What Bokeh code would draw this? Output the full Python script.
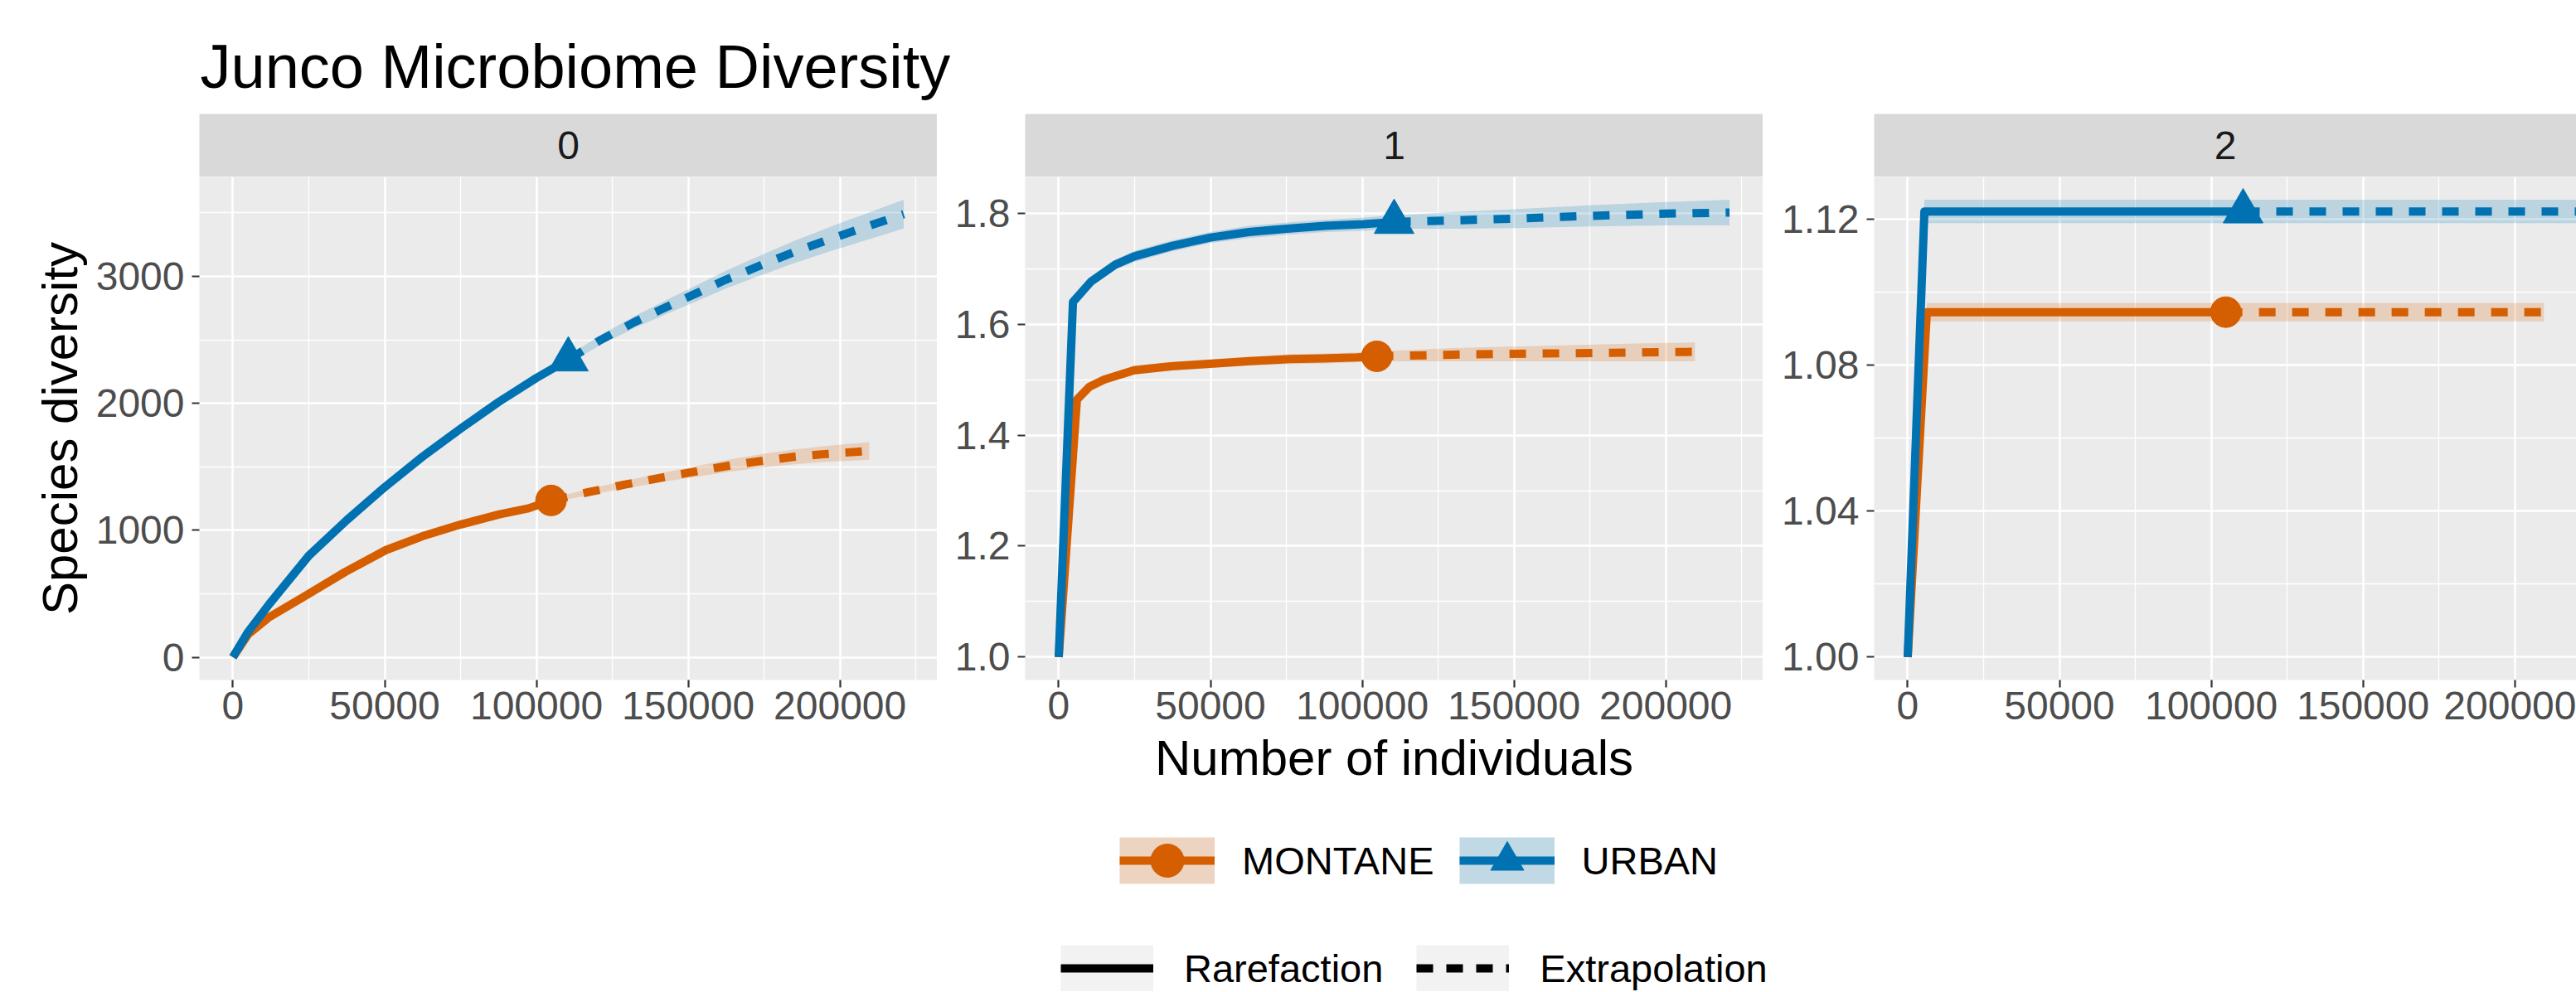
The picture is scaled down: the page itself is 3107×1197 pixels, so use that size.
from bokeh.plotting import figure
from bokeh.layouts import column, row
from bokeh.models import FixedTicker, Range1d, Legend, LegendItem
from bokeh.core.properties import value
from bokeh.embed import file_html
from bokeh.resources import INLINE

FONT = "Liberation Sans"

# ---------------------------------------------------------------- labels
title_text = "Junco Microbiome Diversity"
x_title = "Number of individuals"
y_title = "Species diversity"
orders = ["0", "1", "2"]          # Hill number order q (facet strips)
sites = ["MONTANE", "URBAN"]
methods = ["Rarefaction", "Extrapolation"]

site_colors = {"MONTANE": "#D55E00", "URBAN": "#0072B2"}
site_markers = {"MONTANE": "circle", "URBAN": "triangle"}
site_marker_size = {"MONTANE": 37, "URBAN": 48}

# ---------------------------------------------------------------- ticks
x_ticks = [0, 50000, 100000, 150000, 200000]
x_tick_labels = ["0", "50000", "100000", "150000", "200000"]
x_minor = [25000, 75000, 125000, 175000, 225000]

q0_ticks = [0, 1000, 2000, 3000]
q0_tick_labels = ["0", "1000", "2000", "3000"]
q0_minor = [500, 1500, 2500, 3500]
q1_ticks = [1.0, 1.2, 1.4, 1.6, 1.8]
q1_tick_labels = ["1.0", "1.2", "1.4", "1.6", "1.8"]
q1_minor = [1.1, 1.3, 1.5, 1.7]
q2_ticks = [1.00, 1.04, 1.08, 1.12]
q2_tick_labels = ["1.00", "1.04", "1.08", "1.12"]
q2_minor = [1.02, 1.06, 1.10]

# ---------------------------------------------------------------- sample sizes
montane_n = 104800
urban_n = 110500

# ---------------------------------------------------------------- q = 0
mon0_rare_x = [1, 5000, 11600, 24300, 37000, 50400, 62400, 75100, 87800, 97400, 104800]
mon0_rare_y = [1, 180, 310, 490, 672, 844, 953, 1046, 1126, 1173, 1235]
mon0_rare_lo = [1, 175, 303, 481, 661, 832, 940, 1032, 1111, 1157, 1218]
mon0_rare_hi = [1, 185, 317, 499, 683, 856, 966, 1060, 1141, 1189, 1252]
mon0_ext_x = [104800, 118000, 129200, 141900, 151400, 162500, 173600, 184700, 195900, 209600]
mon0_ext_y = [1235, 1305, 1360, 1418, 1458, 1505, 1545, 1578, 1602, 1625]
mon0_ext_lo = [1218, 1281, 1330, 1382, 1417, 1458, 1492, 1520, 1539, 1555]
mon0_ext_hi = [1252, 1329, 1390, 1454, 1499, 1552, 1598, 1636, 1665, 1695]

urb0_rare_x = [1, 5000, 12000, 25000, 37500, 50000, 62500, 75000, 87500, 100000, 110500]
urb0_rare_y = [1, 200, 420, 800, 1080, 1340, 1580, 1800, 2010, 2200, 2345]
urb0_rare_lo = [1, 194, 410, 786, 1063, 1320, 1558, 1776, 1984, 2172, 2315]
urb0_rare_hi = [1, 206, 430, 814, 1097, 1360, 1602, 1824, 2036, 2228, 2375]
urb0_ext_x = [110500, 121200, 132300, 143400, 153000, 162500, 175200, 184700, 197500, 208600, 221000]
urb0_ext_y = [2345, 2500, 2640, 2765, 2870, 2975, 3100, 3190, 3300, 3390, 3490]
urb0_ext_lo = [2315, 2462, 2593, 2710, 2807, 2905, 3020, 3103, 3203, 3285, 3377]
urb0_ext_hi = [2375, 2538, 2687, 2820, 2933, 3045, 3180, 3277, 3397, 3495, 3603]

# ---------------------------------------------------------------- q = 1
mon1_rare_x = [1, 6000, 10100, 15000, 24900, 37000, 50700, 62000, 76200, 87000, 98300, 104800]
mon1_rare_y = [1.0, 1.464, 1.487, 1.500, 1.517, 1.524, 1.529, 1.533, 1.537, 1.538, 1.540, 1.542]
mon1_rare_lo = [1.0, 1.459, 1.481, 1.493, 1.509, 1.516, 1.521, 1.525, 1.528, 1.529, 1.531, 1.533]
mon1_rare_hi = [1.0, 1.469, 1.493, 1.507, 1.525, 1.532, 1.537, 1.541, 1.546, 1.547, 1.549, 1.551]
mon1_ext_x = [104800, 130000, 160000, 190000, 209600]
mon1_ext_y = [1.542, 1.545, 1.547, 1.549, 1.550]
mon1_ext_lo = [1.533, 1.533, 1.533, 1.533, 1.533]
mon1_ext_hi = [1.551, 1.557, 1.561, 1.565, 1.567]

urb1_rare_x = [1, 4700, 10700, 18600, 24900, 37500, 50000, 62600, 75200, 87800, 100400, 110500]
urb1_rare_y = [1.0, 1.640, 1.677, 1.707, 1.722, 1.741, 1.756, 1.766, 1.772, 1.777, 1.780, 1.784]
urb1_rare_lo = [1.0, 1.634, 1.669, 1.698, 1.712, 1.731, 1.746, 1.755, 1.761, 1.766, 1.768, 1.772]
urb1_rare_hi = [1.0, 1.646, 1.685, 1.716, 1.732, 1.751, 1.766, 1.777, 1.783, 1.788, 1.792, 1.796]
urb1_ext_x = [110500, 130000, 150000, 175000, 200000, 221000]
urb1_ext_y = [1.784, 1.787, 1.790, 1.795, 1.799, 1.801]
urb1_ext_lo = [1.772, 1.772, 1.773, 1.776, 1.778, 1.778]
urb1_ext_hi = [1.796, 1.802, 1.807, 1.814, 1.820, 1.824]

# ---------------------------------------------------------------- q = 2
mon2_rare_x = [1, 6300, 30000, 60000, 90000, 104800]
mon2_rare_y = [1.0, 1.0946, 1.0946, 1.0946, 1.0946, 1.0946]
mon2_rare_lo = [1.0, 1.0921, 1.0921, 1.0921, 1.0921, 1.0921]
mon2_rare_hi = [1.0, 1.0971, 1.0971, 1.0971, 1.0971, 1.0971]
mon2_ext_x = [104800, 130000, 160000, 190000, 209600]
mon2_ext_y = [1.0946, 1.0946, 1.0946, 1.0946, 1.0946]
mon2_ext_lo = [1.0921, 1.0921, 1.0921, 1.0921, 1.0921]
mon2_ext_hi = [1.0971, 1.0971, 1.0971, 1.0971, 1.0971]

urb2_rare_x = [1, 5500, 30000, 60000, 90000, 110500]
urb2_rare_y = [1.0, 1.1222, 1.1222, 1.1222, 1.1222, 1.1222]
urb2_rare_lo = [1.0, 1.1190, 1.1190, 1.1190, 1.1190, 1.1190]
urb2_rare_hi = [1.0, 1.1254, 1.1254, 1.1254, 1.1254, 1.1254]
urb2_ext_x = [110500, 140000, 170000, 200000, 221000]
urb2_ext_y = [1.1222, 1.1222, 1.1222, 1.1222, 1.1222]
urb2_ext_lo = [1.1190, 1.1190, 1.1190, 1.1190, 1.1190]
urb2_ext_hi = [1.1254, 1.1254, 1.1254, 1.1254, 1.1254]


def curve(rx, ry, rlo, rhi, ex, ey, elo, ehi):
    return dict(rare=(rx, ry, rlo, rhi), ext=(ex, ey, elo, ehi))


panels = [
    dict(q=orders[0], ticks=q0_ticks, labels=q0_tick_labels, minor=q0_minor,
         series={"MONTANE": curve(mon0_rare_x, mon0_rare_y, mon0_rare_lo, mon0_rare_hi,
                                  mon0_ext_x, mon0_ext_y, mon0_ext_lo, mon0_ext_hi),
                 "URBAN": curve(urb0_rare_x, urb0_rare_y, urb0_rare_lo, urb0_rare_hi,
                                urb0_ext_x, urb0_ext_y, urb0_ext_lo, urb0_ext_hi)}),
    dict(q=orders[1], ticks=q1_ticks, labels=q1_tick_labels, minor=q1_minor,
         series={"MONTANE": curve(mon1_rare_x, mon1_rare_y, mon1_rare_lo, mon1_rare_hi,
                                  mon1_ext_x, mon1_ext_y, mon1_ext_lo, mon1_ext_hi),
                 "URBAN": curve(urb1_rare_x, urb1_rare_y, urb1_rare_lo, urb1_rare_hi,
                                urb1_ext_x, urb1_ext_y, urb1_ext_lo, urb1_ext_hi)}),
    dict(q=orders[2], ticks=q2_ticks, labels=q2_tick_labels, minor=q2_minor,
         series={"MONTANE": curve(mon2_rare_x, mon2_rare_y, mon2_rare_lo, mon2_rare_hi,
                                  mon2_ext_x, mon2_ext_y, mon2_ext_lo, mon2_ext_hi),
                 "URBAN": curve(urb2_rare_x, urb2_rare_y, urb2_rare_lo, urb2_rare_hi,
                                urb2_ext_x, urb2_ext_y, urb2_ext_lo, urb2_ext_hi)}),
]
sample_n = {"MONTANE": montane_n, "URBAN": urban_n}

# ---------------------------------------------------------------- geometry
FRAME_H = 607
STRIP_H = 76
TITLE_H = 137
BOTTOM_BORDER = 165
TOTAL_W, TOTAL_H = 3107, 1197
left_borders = [240, 106, 134]
frame_widths = [890, 890, 847]
PANEL_BG = "#EBEBEB"
STRIP_BG = "#D9D9D9"

# shared x scale with 5% padding, like ggplot's default expansion
all_x = [v for pnl in panels for s in pnl["series"].values() for part in s.values() for v in part[0]]
x_min, x_max = min(all_x), max(all_x)
x_pad = 0.05 * (x_max - x_min)
x_lo, x_hi = x_min - x_pad, x_max + x_pad
units_per_px = (x_hi - x_lo) / frame_widths[0]


def style_axis(ax, ticks, labels, minor):
    ax.ticker = FixedTicker(ticks=ticks, minor_ticks=minor)
    ax.major_label_overrides = {t: lab for t, lab in zip(ticks, labels)}
    ax.axis_line_color = None
    ax.minor_tick_line_color = None
    ax.major_tick_in = 0
    ax.major_tick_out = 9
    ax.major_tick_line_color = "#333333"
    ax.major_tick_line_width = 2.2
    ax.major_label_text_font = FONT
    ax.major_label_text_font_size = "48px"
    ax.major_label_text_color = "#4D4D4D"
    ax.axis_label_text_font = FONT
    ax.axis_label_text_font_size = "60px"
    ax.axis_label_text_font_style = "normal"
    ax.axis_label_text_color = "black"


def style_grid(g, ticks, minor):
    g.ticker = FixedTicker(ticks=ticks, minor_ticks=minor)
    g.grid_line_color = "white"
    g.grid_line_width = 2.6
    g.minor_grid_line_color = "white"
    g.minor_grid_line_width = 1.3


def strip_figure(label, border_left, frame_w):
    s = figure(frame_width=frame_w, frame_height=STRIP_H, min_border=0,
               min_border_left=border_left, min_border_right=0,
               x_range=Range1d(0, 1), y_range=Range1d(0, 1),
               x_axis_location=None, y_axis_location=None,
               output_backend="svg", toolbar_location=None,
               background_fill_color=STRIP_BG, border_fill_color="white")
    s.title = None
    s.outline_line_color = None
    s.grid.visible = False
    s.text(x=[0.5], y=[0.5], text=[label], text_align="center", text_baseline="middle",
           text_font=value(FONT), text_font_size="48px", text_color="#1A1A1A")
    return s


def panel_figure(i, pnl):
    vals = [v for s in pnl["series"].values() for part in s.values() for arr in part[1:] for v in arr]
    y_min, y_max = min(vals), max(vals)
    y_pad = 0.05 * (y_max - y_min)
    x_end = x_lo + frame_widths[i] * units_per_px
    p = figure(frame_width=frame_widths[i], frame_height=FRAME_H, min_border=0,
               min_border_left=left_borders[i], min_border_right=0,
               min_border_top=0, min_border_bottom=BOTTOM_BORDER,
               x_range=Range1d(x_lo, x_end), y_range=Range1d(y_min - y_pad, y_max + y_pad),
               output_backend="svg", toolbar_location=None,
               background_fill_color=PANEL_BG, border_fill_color="white")
    p.title = None
    p.outline_line_color = None
    style_axis(p.xaxis[0], x_ticks, x_tick_labels, x_minor)
    style_axis(p.yaxis[0], pnl["ticks"], pnl["labels"], pnl["minor"])
    style_grid(p.xgrid[0], x_ticks, x_minor)
    style_grid(p.ygrid[0], pnl["ticks"], pnl["minor"])
    p.xaxis[0].major_label_standoff = 5
    p.yaxis[0].major_label_standoff = 9
    if i == 0:
        p.yaxis[0].axis_label = y_title
        p.yaxis[0].axis_label_standoff = 7
    if i == 1:
        p.xaxis[0].axis_label = x_title
        p.xaxis[0].axis_label_standoff = 10

    # observed sample points, then curves, then confidence bands (ggiNEXT order)
    for site in sites:
        rx, ry, _, _ = pnl["series"][site]["rare"]
        p.scatter(x=[sample_n[site]], y=[ry[-1]], marker=site_markers[site],
                  size=site_marker_size[site], color=site_colors[site])
    for site in sites:
        c = site_colors[site]
        rx, ry, _, _ = pnl["series"][site]["rare"]
        ex, ey, _, _ = pnl["series"][site]["ext"]
        p.line(rx, ry, line_color=c, line_width=10, line_join="round")
        p.line(ex, ey, line_color=c, line_width=10, line_dash="20 20")
    for site in sites:
        c = site_colors[site]
        for part in ("rare", "ext"):
            px_, _, lo, hi = pnl["series"][site][part]
            p.varea(x=px_, y1=lo, y2=hi, fill_color=c, fill_alpha=0.2)
    return p


# ---------------------------------------------------------------- title
tf = figure(width=TOTAL_W, height=TITLE_H, min_border=0,
            x_range=Range1d(0, TOTAL_W), y_range=Range1d(0, TITLE_H),
            x_axis_location=None, y_axis_location=None,
            output_backend="svg", toolbar_location=None)
tf.title = None
tf.outline_line_color = None
tf.grid.visible = False
tf.text(x=[241], y=[57], text=[title_text], text_align="left", text_baseline="alphabetic",
        text_font=value(FONT), text_font_size="74px", text_color="black")

# ---------------------------------------------------------------- facets
cols = []
for i, pnl in enumerate(panels):
    cols.append(column(strip_figure(pnl["q"], left_borders[i], frame_widths[i]),
                       panel_figure(i, pnl)))

# ---------------------------------------------------------------- legends
legend_h = TOTAL_H - TITLE_H - STRIP_H - FRAME_H - BOTTOM_BORDER
lf = figure(width=TOTAL_W, height=legend_h, min_border=0,
            x_range=Range1d(0, 1), y_range=Range1d(0, 1),
            x_axis_location=None, y_axis_location=None,
            output_backend="svg", toolbar_location=None)
lf.title = None
lf.outline_line_color = None
lf.grid.visible = False

# key proxies: one point each, parked outside the visible range so that only
# the legend keys show them
proxy_x, proxy_y = [-5.0], [-5.0]

site_items = []
for site in sites:
    c = site_colors[site]
    key_bg = lf.line(x=proxy_x, y=proxy_y, line_color="#F2F2F2", line_width=56)
    key_fill = lf.line(x=proxy_x, y=proxy_y, line_color=c, line_alpha=0.2, line_width=56)
    key_line = lf.line(x=proxy_x, y=proxy_y, line_color=c, line_width=10)
    key_mark = lf.scatter(x=proxy_x, y=proxy_y, marker=site_markers[site], size=40, color=c)
    site_items.append(LegendItem(label=site, renderers=[key_bg, key_fill, key_line, key_mark]))

method_items = []
for m, dash in zip(methods, ["solid", "20 16"]):
    key_bg = lf.line(x=proxy_x, y=proxy_y, line_color="#F2F2F2", line_width=56)
    key_line = lf.line(x=proxy_x, y=proxy_y, line_color="black", line_width=10, line_dash=dash)
    method_items.append(LegendItem(label=m, renderers=[key_bg, key_line]))

common = dict(orientation="horizontal", padding=0, margin=0, border_line_color=None,
              background_fill_alpha=0, label_text_font=FONT, label_text_font_size="47px",
              label_text_color="black")
site_legend = Legend(items=site_items, location=(1350, 109), glyph_width=115, glyph_height=100,
                     label_standoff=33, spacing=30, **common)
method_legend = Legend(items=method_items, location=(1279, 1), glyph_width=112, glyph_height=56,
                       label_standoff=37, spacing=40, **common)
lf.add_layout(site_legend, "center")
lf.add_layout(method_legend, "center")

layout = column(tf, row(*cols), lf)
open("out.html", "w").write(file_html(layout, INLINE))
